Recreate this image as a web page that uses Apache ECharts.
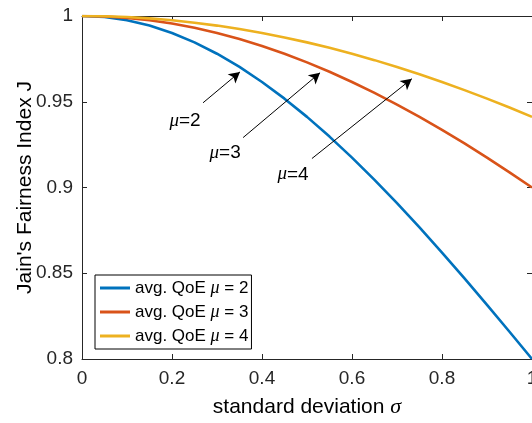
<!DOCTYPE html>
<html>
<head>
<meta charset="utf-8">
<script src="https://cdn.jsdelivr.net/npm/echarts@6/dist/echarts.min.js"></script>
<style>html,body{margin:0;padding:0;background:#fff}#c{width:532px;height:423px}</style>
</head>
<body>
<div id="c"></div>
<script>
const sigma = [0,0.05,0.1,0.15,0.2,0.25,0.3,0.35,0.4,0.45,0.5,0.55,0.6,0.65,0.7,0.75,0.8,0.85,0.9,0.95,1];
const jMu2 = [1,0.99938,0.99751,0.99441,0.99010,0.98462,0.97800,0.97029,0.96154,0.95181,0.94118,0.92969,0.91743,0.90446,0.89087,0.87671,0.86207,0.84701,0.83160,0.81591,0.80000];
const jMu3 = [1,0.99972,0.99889,0.99751,0.99558,0.99310,0.99010,0.98657,0.98253,0.97800,0.97297,0.96748,0.96154,0.95516,0.94837,0.94118,0.93361,0.92569,0.91743,0.90886,0.90000];
const jMu4 = [1,0.99984,0.99938,0.99860,0.99751,0.99611,0.99441,0.99240,0.99010,0.98750,0.98462,0.98144,0.97800,0.97427,0.97029,0.96604,0.96154,0.95679,0.95181,0.94661,0.94118];
const seriesNames = ['avg. QoE μ = 2','avg. QoE μ = 3','avg. QoE μ = 4'];
const colors = ['#0072BD','#D95319','#EDB120'];
const arrowStarts = [[0.269,0.9494],[0.358,0.9291],[0.511,0.9169]];
const arrowEnds = [[0.351,0.9674],[0.529,0.9669],[0.733,0.9634]];
const labelPos = [[0.229,0.9390],[0.318,0.9203],[0.469,0.9076]];
const labelMu = ['2','3','4'];

const axisColor = '#262626';
const chart = echarts.init(document.getElementById('c'));
const font = 'Liberation Sans, Arial, sans-serif';
const serif = 'Liberation Serif, Times New Roman, serif';

function mk(data){ return sigma.map((s,i)=>[s,data[i]]); }
const allData = [jMu2,jMu3,jMu4];
const series = allData.map((d,k)=>({
  name: seriesNames[k], type:'line', data: mk(d), showSymbol:false, symbol:'none',
  lineStyle:{color:colors[k], width:2.6}, itemStyle:{color:colors[k]}, smooth:false, z:3
}));
series.push({
  name:'annot', type:'line', data:[], silent:true,
  markLine:{ silent:true, symbol:['none','arrow'], symbolSize:10,
    lineStyle:{color:'#000', width:1, type:'solid'}, label:{show:false},
    data: arrowStarts.map((s,i)=>[{coord:s, symbol:'none'},{coord:arrowEnds[i], symbol:'arrow', symbolSize:[9,11]}]) },
  markPoint:{ silent:true, symbol:'circle', symbolSize:0,
    label:{show:true, position:'inside', color:'#000', fontFamily:font, fontSize:19,
      formatter:(p)=>'{i|μ}{t|=' + p.value + '}',
      rich:{ i:{fontFamily:serif, fontStyle:'italic', fontSize:19, color:'#000'}, t:{fontFamily:font, fontSize:19, color:'#000'} }},
    data: labelPos.map((p,i)=>({coord:p, value:labelMu[i]})) }
});

chart.setOption({
  animation:false,
  backgroundColor:'#fff',
  color: colors,
  grid:{left:82, right:0, top:16, bottom:64, containLabel:false, outerBoundsMode:'none'},
  legend:{
    data: seriesNames, orient:'vertical', left:95, top:275,
    backgroundColor:'#fff', borderColor:'#000', borderWidth:1,
    padding:[4,3,4,5], itemGap:6, itemWidth:30, itemHeight:3, icon:'rect',
    textStyle:{fontFamily:font, fontSize:17, color:'#000',
      rich:{ i:{fontFamily:serif, fontStyle:'italic', fontSize:18, color:'#000'}, t:{fontFamily:font,fontSize:17,color:'#000'} }},
    formatter:(n)=> '{t|avg. QoE }{i|μ}{t| = ' + n.slice(-1) + '}'
  },
  xAxis:[{
    type:'value', min:0, max:1, interval:0.2, position:'bottom',
    name:'{t|standard deviation }{i|σ}', nameLocation:'middle', nameGap:37, nameMoveOverlap:false,
    nameTextStyle:{fontFamily:font, fontSize:21, color:'#000', rich:{t:{fontFamily:font, fontSize:21, color:'#000'}, i:{fontFamily:serif, fontStyle:'italic', fontSize:22, color:'#000'}}},
    axisLine:{show:true, onZero:false, lineStyle:{color:axisColor, width:1}},
    axisTick:{show:true, inside:true, length:5, lineStyle:{color:axisColor}},
    axisLabel:{fontFamily:font, fontSize:19, color:axisColor, margin:10, formatter:(v)=>String(+v.toFixed(1))},
    splitLine:{show:false}
  },{
    type:'value', min:0, max:1, interval:0.2, position:'top',
    axisLine:{show:true, onZero:false, lineStyle:{color:axisColor, width:1}},
    axisTick:{show:true, inside:true, length:5, lineStyle:{color:axisColor}},
    axisLabel:{show:false}, splitLine:{show:false}
  }],
  yAxis:[{
    type:'value', min:0.8, max:1, interval:0.05, position:'left',
    name:"Jain's Fairness Index J", nameLocation:'middle', nameGap:46, nameMoveOverlap:false,
    nameTextStyle:{fontFamily:font, fontSize:21, color:'#000'},
    axisLine:{show:true, onZero:false, lineStyle:{color:axisColor, width:1}},
    axisTick:{show:true, inside:true, length:5, lineStyle:{color:axisColor}},
    axisLabel:{fontFamily:font, fontSize:19, color:axisColor, margin:9, formatter:(v)=>String(+v.toFixed(2))},
    splitLine:{show:false}
  },{
    type:'value', min:0.8, max:1, interval:0.05, position:'right',
    axisLine:{show:true, onZero:false, lineStyle:{color:axisColor, width:1}},
    axisTick:{show:true, inside:true, length:5, lineStyle:{color:axisColor}},
    axisLabel:{show:false}, splitLine:{show:false}
  }],
  series: series
});
</script>
</body>
</html>
